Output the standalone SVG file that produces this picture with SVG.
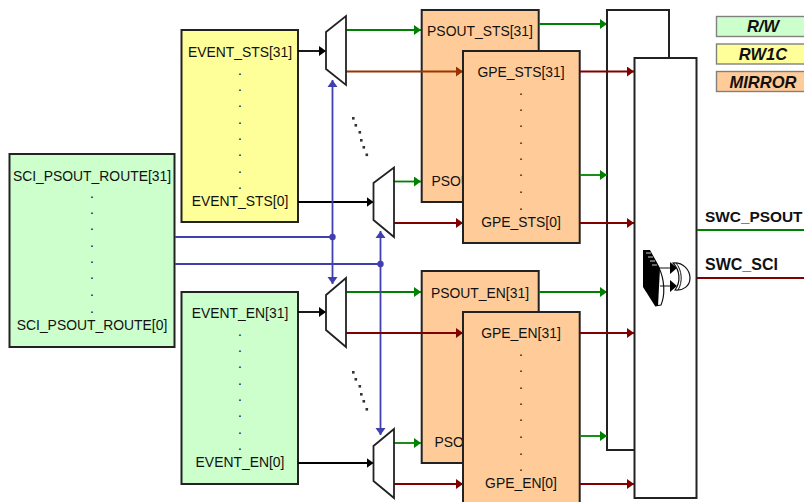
<svg xmlns="http://www.w3.org/2000/svg" width="804" height="502" viewBox="0 0 804 502">
<style>
text{font-family:"Liberation Sans",Arial,sans-serif;font-size:13.9px;fill:#111;text-anchor:middle}
.box{stroke:#222;stroke-width:2}
.g{fill:#ccffcc}.y{fill:#ffff99}.o{fill:#ffcc99}.w{fill:#fff}
.mux{fill:#fff;stroke:#222;stroke-width:1.8}
.c{fill:none;stroke-width:1.8}
.k{stroke:#000;marker-end:url(#ak)}
.gr{stroke:#008000;marker-end:url(#ag)}
.r{stroke:#800000;marker-end:url(#ar)}
.br{stroke:#993300;marker-end:url(#abr)}
.ln{stroke:#3f3fae}
.leg{stroke:#808080;stroke-width:1.4}
.lt{font-weight:bold;font-style:italic;font-size:16.5px}
.sig{font-weight:bold;font-size:16px;text-anchor:start}
.sig2{font-size:15.4px}
.cut{text-anchor:start}
.star{fill:#333}
</style>
<defs>
<marker id="ak" markerUnits="userSpaceOnUse" markerWidth="8" markerHeight="12" refX="7" refY="5" orient="auto"><path d="M0 0L7 5L0 10Z" fill="#000"/></marker>
<marker id="ag" markerUnits="userSpaceOnUse" markerWidth="8" markerHeight="12" refX="7" refY="5" orient="auto"><path d="M0 0L7 5L0 10Z" fill="#008000"/></marker>
<marker id="ar" markerUnits="userSpaceOnUse" markerWidth="8" markerHeight="12" refX="7" refY="5" orient="auto"><path d="M0 0L7 5L0 10Z" fill="#800000"/></marker>
<marker id="abr" markerUnits="userSpaceOnUse" markerWidth="8" markerHeight="12" refX="7" refY="5" orient="auto"><path d="M0 0L7 5L0 10Z" fill="#993300"/></marker>
<marker id="abl" markerUnits="userSpaceOnUse" markerWidth="8" markerHeight="12" refX="7" refY="5" orient="auto"><path d="M0 0L7 5L0 10Z" fill="#3f3fae"/></marker>
<marker id="abl2" markerUnits="userSpaceOnUse" markerWidth="8" markerHeight="12" refX="0" refY="5" orient="auto"><path d="M7 0L0 5L7 10Z" fill="#3f3fae"/></marker>
</defs>

<g id="legend-rw"><rect class="leg g" x="716.5" y="16.5" width="90" height="20"/><text class="lt" x="763" y="32">R/W</text></g>
<g id="legend-rw1c"><rect class="leg y" x="716.5" y="44" width="90" height="20"/><text class="lt" x="763" y="60">RW1C</text></g>
<g id="legend-mirror"><rect class="leg o" x="716.5" y="71.5" width="90" height="20"/><text class="lt" x="763" y="88">MIRROR</text></g>

<g id="sci-psout-route"><rect class="box g" x="9.5" y="154" width="165" height="193"/>
<text x="92" y="181">SCI_PSOUT_ROUTE[31]</text>
<text x="92" y="198">.</text><text x="92" y="214">.</text><text x="92" y="230">.</text><text x="92" y="247">.</text><text x="92" y="263">.</text><text x="92" y="279">.</text><text x="92" y="296">.</text><text x="92" y="313">.</text>
<text x="92" y="330">SCI_PSOUT_ROUTE[0]</text></g>

<g id="event-sts"><rect class="box y" x="181.5" y="30" width="116.5" height="192"/>
<text x="240" y="57">EVENT_STS[31]</text>
<text x="240" y="75">.</text><text x="240" y="91">.</text><text x="240" y="107">.</text><text x="240" y="124">.</text><text x="240" y="140">.</text><text x="240" y="156">.</text><text x="240" y="173">.</text><text x="240" y="189">.</text>
<text x="240" y="206">EVENT_STS[0]</text></g>

<g id="event-en"><rect class="box g" x="181.5" y="292" width="116.5" height="192"/>
<text x="240" y="318">EVENT_EN[31]</text>
<text x="240" y="336">.</text><text x="240" y="352">.</text><text x="240" y="368">.</text><text x="240" y="385">.</text><text x="240" y="401">.</text><text x="240" y="417">.</text><text x="240" y="434">.</text><text x="240" y="450">.</text>
<text x="240" y="467">EVENT_EN[0]</text></g>

<g id="psout-sts"><rect class="box o" x="421.7" y="10" width="117" height="192"/>
<text x="480" y="36">PSOUT_STS[31]</text><text class="cut" x="431.500" y="186">PSOU</text></g>
<g id="psout-en"><rect class="box o" x="421.7" y="271" width="117" height="192"/>
<text x="480" y="298">PSOUT_EN[31]</text><text class="cut" x="434.500" y="447">PSO</text></g>

<g id="connectors">
<path class="c k" d="M298 51H326"/>
<path class="c k" d="M298 202H373.5"/>
<path class="c k" d="M298 312H326"/>
<path class="c k" d="M298 463H373.5"/>
<path class="c gr" d="M346 30H421"/>
<path class="c gr" d="M394 181.500H421"/>
<path class="c gr" d="M346 292H421"/>
<path class="c gr" d="M394 443H421"/>
<path class="c ln" d="M175 237H333"/>
<path class="c ln" d="M175 264H381"/>
<path class="c" stroke="#3f3fae" marker-start="url(#abl2)" marker-end="url(#abl)" d="M332.500 80V284"/>
<path class="c" stroke="#3f3fae" marker-start="url(#abl2)" marker-end="url(#abl)" d="M380.500 231V435"/>
<circle cx="332.500" cy="237" r="3.200" fill="#3f3fae"/>
<circle cx="380.500" cy="264" r="3.200" fill="#3f3fae"/>
<path class="c br" d="M346 71.500H463"/>
<path class="c r" d="M394 223H463"/>
<path class="c r" d="M346 333H463"/>
<path class="c r" d="M394 484H463"/>
<path class="c gr" d="M538.700 24H607"/>
<path class="c gr" d="M538.700 292H607"/>
</g>

<g id="mux-1"><path class="mux" d="M326 32L346 16V85L326 69Z"/></g>
<g id="mux-2"><path class="mux" d="M373.500 183L394 167.500V237L373.500 220Z"/></g>
<g id="mux-3"><path class="mux" d="M326 295L346 278V347L326 330Z"/></g>
<g id="mux-4"><path class="mux" d="M373.500 446L394 429V498L373.500 481Z"/></g>

<g id="dots-upper" class="star"><rect x="352" y="117" width="2.600" height="2.600"/><rect x="354.500" y="124" width="2.600" height="2.600"/><rect x="358.500" y="131" width="2.600" height="2.600"/><rect x="360" y="139" width="2.600" height="2.600"/><rect x="362.500" y="146" width="2.600" height="2.600"/><rect x="365.500" y="153.500" width="2.600" height="2.600"/></g>
<g id="dots-lower" class="star"><rect x="352" y="371" width="2.600" height="2.600"/><rect x="354.500" y="378" width="2.600" height="2.600"/><rect x="358.500" y="385" width="2.600" height="2.600"/><rect x="360" y="393" width="2.600" height="2.600"/><rect x="362.500" y="400" width="2.600" height="2.600"/><rect x="365.500" y="408" width="2.600" height="2.600"/></g>

<g id="gate-back"><rect class="box w" x="607" y="10" width="62" height="440"/></g>

<g id="gpe-sts"><rect class="box o" x="463" y="51" width="116.700" height="192"/>
<text x="521" y="77">GPE_STS[31]</text>
<text x="521" y="95">.</text><text x="521" y="111">.</text><text x="521" y="127">.</text><text x="521" y="144">.</text><text x="521" y="160">.</text><text x="521" y="176">.</text><text x="521" y="193">.</text><text x="521" y="210">.</text>
<text x="521" y="227">GPE_STS[0]</text></g>
<g id="gpe-en"><rect class="box o" x="463" y="312" width="116.700" height="192"/>
<text x="521" y="338">GPE_EN[31]</text>
<text x="521" y="356">.</text><text x="521" y="372">.</text><text x="521" y="389">.</text><text x="521" y="405">.</text><text x="521" y="421">.</text><text x="521" y="438">.</text><text x="521" y="455">.</text><text x="521" y="471">.</text>
<text x="521" y="488">GPE_EN[0]</text></g>

<g id="connectors-out">
<path class="c r" d="M579.700 71.500H634"/>
<path class="c gr" d="M579.700 175H607"/>
<path class="c r" d="M579.700 223H634"/>
<path class="c r" d="M579.700 333H634"/>
<path class="c gr" d="M579.700 436H607"/>
<path class="c r" d="M579.700 484H634"/>
</g>

<g id="gate-front"><rect class="box w" x="634.500" y="58" width="62" height="440"/></g>

<g id="or-icon">
<path d="M659 268C665 280 665 296 661 305L655 306" fill="#fff" stroke="#111" stroke-width="1.200"/>
<path d="M643 250H650L660 268L658 306H655L643 287Z" fill="#000"/>
<path d="M646 253H651M648 257H653M650 261H655M652 265H657" stroke="#ccc" stroke-width="1"/>
<path d="M660 268H671M660 286H671" stroke="#111" stroke-width="1.200"/>
<path d="M670 262L677 268L670 274ZM670 280L677 286L670 292Z" fill="#000"/>
<path d="M673 263C683 262 690 270 690 278C690 286 683 291 675 290C681 282 680 270 673 263Z" fill="#fff" stroke="#111" stroke-width="1.200"/>
<path d="M676 263C682 270 683 282 678 290" fill="none" stroke="#111" stroke-width="1"/>
</g>

<g id="outputs">
<path class="c" stroke="#008000" d="M697 230H804"/>
<path class="c" stroke="#800000" d="M697 278H804"/>
<text class="sig sig2" x="705" y="222">SWC_PSOUT</text>
<text class="sig" x="705" y="270">SWC_SCI</text>
</g>
</svg>
